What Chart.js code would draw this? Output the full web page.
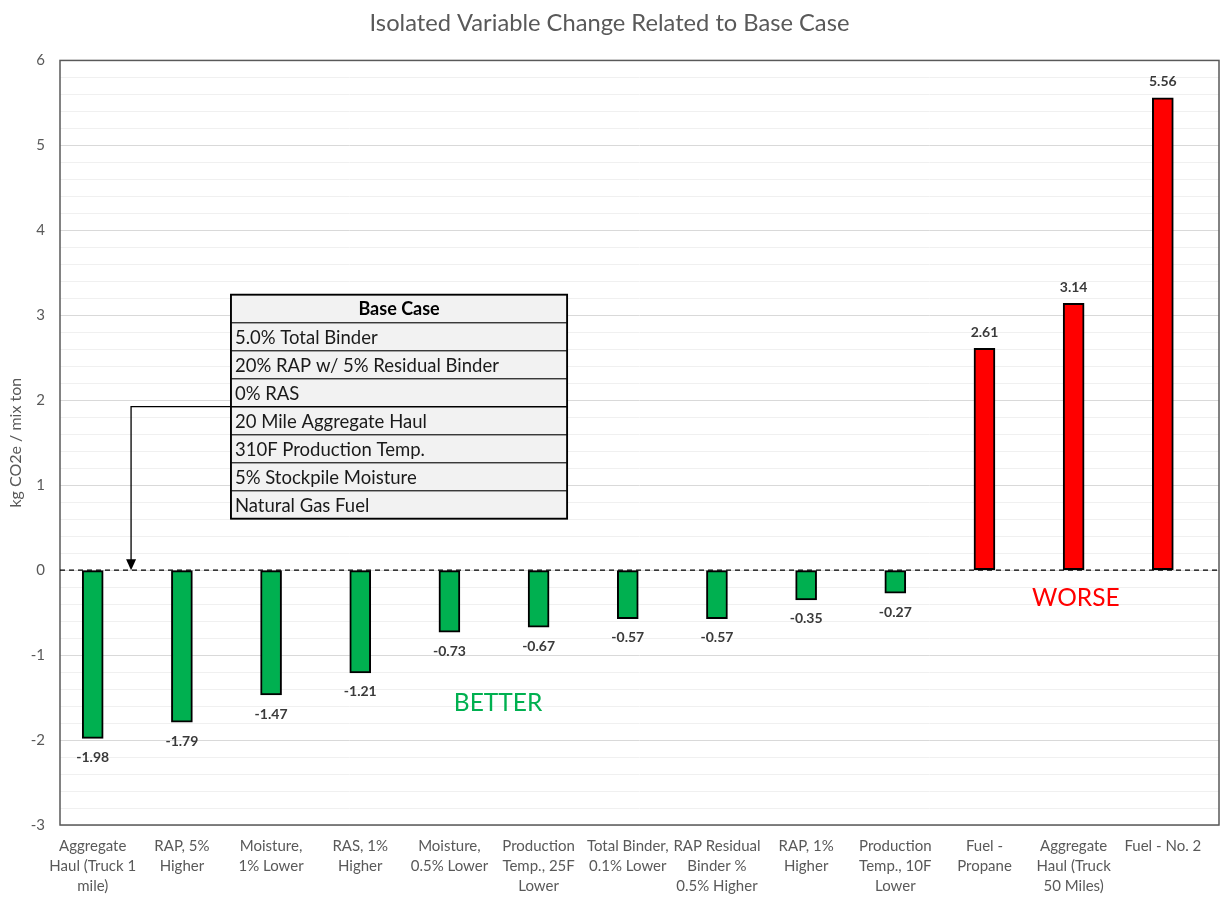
<!DOCTYPE html>
<html>
<head>
<meta charset="utf-8">
<script src="https://cdn.jsdelivr.net/npm/chart.js@4.4.1/dist/chart.umd.min.js"></script>
<style>
  html, body { margin: 0; padding: 0; background: #ffffff; }
  #wrap { width: 1225px; height: 897px; }
</style>
</head>
<body>
<div id="wrap"><canvas id="c" width="1225" height="897"></canvas></div>
<script>
const chartTitle = "Isolated Variable Change Related to Base Case";
const yAxisTitle = "kg CO2e / mix ton";
const categories = [
  ["Aggregate", "Haul (Truck 1", "mile)"],
  ["RAP, 5%", "Higher"],
  ["Moisture,", "1% Lower"],
  ["RAS, 1%", "Higher"],
  ["Moisture,", "0.5% Lower"],
  ["Production", "Temp., 25F", "Lower"],
  ["Total Binder,", "0.1% Lower"],
  ["RAP Residual", "Binder %", "0.5% Higher"],
  ["RAP, 1%", "Higher"],
  ["Production", "Temp., 10F", "Lower"],
  ["Fuel -", "Propane"],
  ["Aggregate", "Haul (Truck", "50 Miles)"],
  ["Fuel - No. 2"]
];
const values = [-1.98, -1.79, -1.47, -1.21, -0.73, -0.67, -0.57, -0.57, -0.35, -0.27, 2.61, 3.14, 5.56];
const valueLabels = ["-1.98", "-1.79", "-1.47", "-1.21", "-0.73", "-0.67", "-0.57", "-0.57", "-0.35", "-0.27", "2.61", "3.14", "5.56"];
const baseCaseHeader = "Base Case";
const baseCaseRows = [
  "5.0% Total Binder",
  "20% RAP w/ 5% Residual Binder",
  "0% RAS",
  "20 Mile Aggregate Haul",
  "310F Production Temp.",
  "5% Stockpile Moisture",
  "Natural Gas Fuel"
];
const betterText = "BETTER";
const worseText = "WORSE";

const GREEN = "#00B050";
const RED = "#FF0000";
const FONT = "Lato, 'Open Sans', sans-serif";

const points = values.map((v, i) => ({ x: i, y: v }));

const overlay = {
  id: "overlay",
  beforeDatasetsDraw(chart) {
    const { ctx, chartArea: a } = chart;
    ctx.save();
    ctx.strokeStyle = "#595959";
    ctx.lineWidth = 1.5;
    ctx.strokeRect(a.left, a.top, a.right - a.left, a.bottom - a.top);
    ctx.restore();
  },
  afterDatasetsDraw(chart) {
    const { ctx, scales: { x, y } } = chart;
    const a = chart.chartArea;
    ctx.save();
    // zero dashed line
    const y0 = y.getPixelForValue(0);
    ctx.strokeStyle = "#000";
    ctx.lineWidth = 1.3;
    ctx.setLineDash([5, 4]);
    ctx.beginPath();
    ctx.moveTo(a.left, y0);
    ctx.lineTo(a.right, y0);
    ctx.stroke();
    ctx.setLineDash([]);

    // value labels
    ctx.font = "bold 14px " + FONT;
    ctx.fillStyle = "#3a3a3a";
    ctx.textAlign = "center";
    ctx.textBaseline = "middle";
    const meta = chart.getDatasetMeta(0);
    meta.data.forEach((bar, i) => {
      const v = values[i];
      const ty = v >= 0 ? bar.y - 16 : bar.y + 19;
      ctx.fillText(valueLabels[i], bar.x, ty);
    });

    // BETTER / WORSE
    ctx.font = "24.5px " + FONT;
    ctx.fillStyle = GREEN;
    ctx.fillText(betterText, x.getPixelForValue(4.545), y.getPixelForValue(-1.57));
    ctx.fillStyle = RED;
    ctx.fillText(worseText, x.getPixelForValue(11.025), y.getPixelForValue(-0.33));

    // Base case table
    const tl = x.getPixelForValue(1.55), tr = x.getPixelForValue(5.32);
    const tt = y.getPixelForValue(3.243);
    const rowH = 28;
    const rows = [baseCaseHeader].concat(baseCaseRows);
    ctx.fillStyle = "#f2f2f2";
    ctx.fillRect(tl, tt, tr - tl, rowH * rows.length);
    ctx.strokeStyle = "#3a3a3a";
    ctx.lineWidth = 1.2;
    rows.forEach((r, i) => {
      const top = tt + i * rowH;
      ctx.strokeRect(tl, top, tr - tl, rowH);
      if (i === 0) {
        ctx.font = "bold 18px " + FONT;
        ctx.textAlign = "center";
        ctx.fillStyle = "#000";
        ctx.fillText(r, (tl + tr) / 2, top + rowH / 2 + 1);
      } else {
        ctx.font = "18.5px " + FONT;
        ctx.textAlign = "left";
        ctx.fillStyle = "#1a1a1a";
        ctx.fillText(r, tl + 4, top + rowH / 2 + 1);
      }
    });
    ctx.strokeStyle = "#000";
    ctx.lineWidth = 1.8;
    ctx.strokeRect(tl, tt, tr - tl, rowH * rows.length);

    // arrow from table to zero line
    const ay = tt + 4 * rowH;
    const ax = x.getPixelForValue(0.43);
    ctx.strokeStyle = "#000";
    ctx.lineWidth = 1.3;
    ctx.beginPath();
    ctx.moveTo(tr, ay);
    ctx.lineTo(ax, ay);
    ctx.lineTo(ax, y0 - 9);
    ctx.stroke();
    ctx.fillStyle = "#000";
    ctx.beginPath();
    ctx.moveTo(ax, y0);
    ctx.lineTo(ax - 5, y0 - 11);
    ctx.lineTo(ax + 5, y0 - 11);
    ctx.closePath();
    ctx.fill();
    ctx.restore();
  }
};

new Chart(document.getElementById("c"), {
  type: "bar",
  data: {
    datasets: [{
      data: points,
      backgroundColor: values.map(v => v >= 0 ? RED : GREEN),
      borderColor: "#000",
      borderWidth: 2,
      borderSkipped: false,
      barThickness: 21
    }]
  },
  options: {
    responsive: false,
    animation: false,
    events: [],
    layout: { padding: { left: 0, right: 6, top: 0, bottom: 0 } },
    plugins: {
      legend: { display: false },
      tooltip: { enabled: false },
      title: {
        display: true,
        text: chartTitle,
        color: "#595959",
        font: { family: FONT, size: 23.7, weight: "normal", lineHeight: 1.2 },
        padding: { top: 9, bottom: 23 }
      }
    },
    scales: {
      x: {
        type: "linear",
        offset: false,
        min: -0.367,
        max: 12.63,
        grid: { display: false, drawTicks: false },
        border: { display: false },
        afterBuildTicks(scale) {
          scale.ticks = categories.map((_, i) => ({ value: i }));
        },
        afterFit(scale) { scale.height = 72; },
        ticks: {
          autoSkip: false,
          maxRotation: 0,
          minRotation: 0,
          padding: 11,
          color: "#595959",
          font: { family: FONT, size: 15, lineHeight: 1.33 },
          callback: (v) => categories[v]
        }
      },
      y: {
        min: -3,
        max: 6,
        grid: {
          drawTicks: false,
          color: (c) => {
            const v = c.tick ? c.tick.value : 0;
            return Math.abs(v - Math.round(v)) < 1e-6 ? "#d9d9d9" : "#f0f0f0";
          },
          lineWidth: 1
        },
        border: { display: false },
        afterFit(scale) { scale.width = 60; },
        title: {
          display: true,
          text: yAxisTitle,
          color: "#595959",
          font: { family: FONT, size: 16 },
          padding: { top: 6, bottom: 0 }
        },
        ticks: {
          stepSize: 0.2,
          autoSkip: false,
          padding: 15,
          color: "#595959",
          font: { family: FONT, size: 15 },
          callback: (v) => Math.abs(v - Math.round(v)) < 1e-6 ? String(Math.round(v)) : ""
        }
      }
    }
  },
  plugins: [overlay]
});
</script>
</body>
</html>
